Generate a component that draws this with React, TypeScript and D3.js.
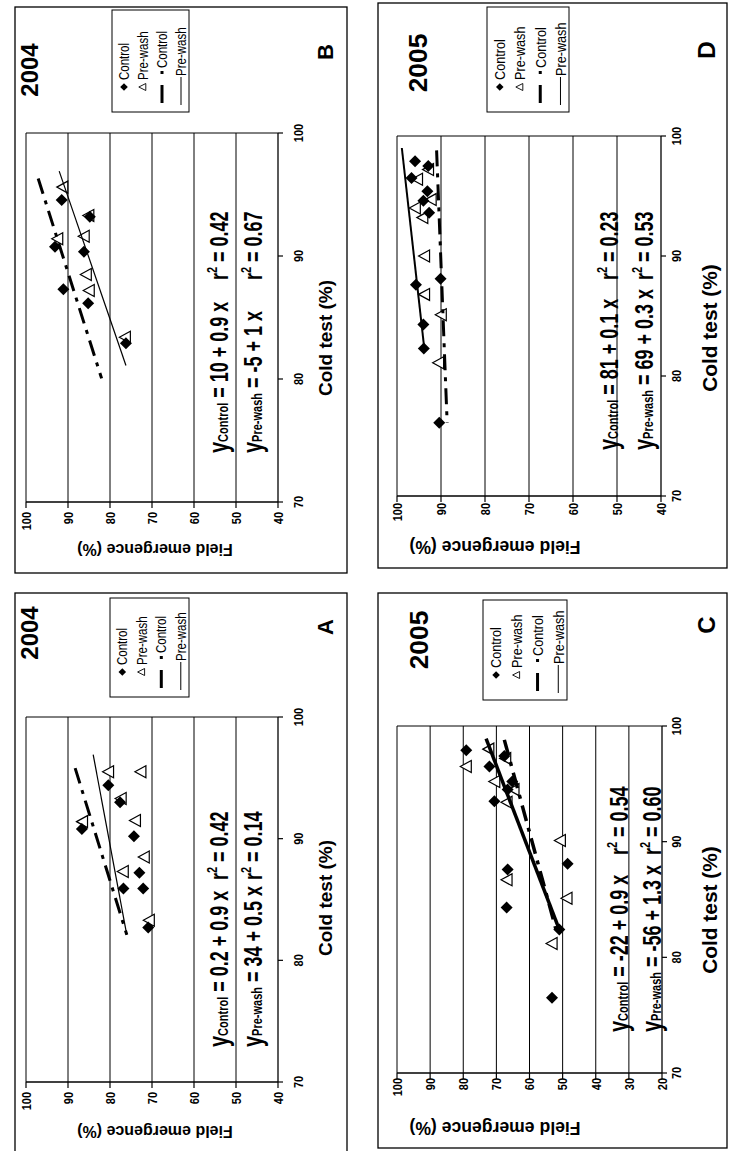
import React from 'react';
import * as d3 from 'd3';

const W = 731;
const H = 1151;
const FONT = "'Liberation Sans', Arial, Helvetica, sans-serif";

// ---------------- data ----------------
const coldTestTicks = [70, 80, 90, 100];
const fieldTicksStd = [40, 50, 60, 70, 80, 90, 100];
const fieldTicksC = [20, 30, 40, 50, 60, 70, 80, 90, 100];
const legendLabels = ['Control', 'Pre-wash', 'Control', 'Pre-wash'];

// Panel A (2004)
const aControlCT = [94.4, 93.0, 90.8, 90.2, 87.2, 85.9, 85.9, 82.7];
const aControlFE = [80.4, 77.6, 86.7, 74.3, 73.0, 76.8, 72.1, 70.9];
const aPrewashCT = [95.5, 95.5, 93.3, 91.4, 91.5, 88.5, 87.3, 83.3];
const aPrewashFE = [80.2, 72.5, 77.2, 86.4, 73.8, 71.7, 76.7, 70.5];
const aControlTrendCT = [95.8, 82.1];
const aControlTrendFE = [88.3, 76.0];
const aPrewashTrendCT = [96.9, 82.1];
const aPrewashTrendFE = [84.0, 76.0];
const aEquation = ['0.2 + 0.9 x', '34 + 0.5 x'];
const aR2 = ['0.42', '0.14'];

// Panel B (2004)
const bControlCT = [94.55, 93.2, 90.75, 90.35, 87.3, 86.15, 82.9];
const bControlFE = [91.5, 84.8, 93.1, 86.2, 91.1, 85.2, 76.2];
const bPrewashCT = [95.6, 93.3, 91.4, 91.6, 88.5, 87.2, 83.4];
const bPrewashFE = [91.1, 84.9, 92.3, 86.0, 85.5, 84.8, 76.2];
const bControlTrendCT = [96.3, 80.05];
const bControlTrendFE = [97.1, 82.0];
const bPrewashTrendCT = [96.9, 81.1];
const bPrewashTrendFE = [92.1, 76.2];
const bEquation = ['10 + 0.9 x', '-5 + 1 x'];
const bR2 = ['0.42', '0.67'];

// Panel C (2005)
const cControlCT = [97.9, 97.4, 96.5, 95.2, 94.5, 93.5, 87.6, 88.1, 84.3, 82.4, 76.5];
const cControlFE = [79.1, 67.6, 72.1, 65.2, 66.6, 70.6, 66.6, 48.5, 66.9, 51.0, 53.2];
const cPrewashCT = [98.0, 96.5, 95.2, 94.5, 93.4, 97.2, 90.1, 86.7, 85.1, 81.2];
const cPrewashFE = [72.1, 78.9, 70.3, 64.5, 66.6, 67.0, 50.5, 66.6, 48.5, 53.0];
const cControlTrendCT = [98.8, 82.4];
const cControlTrendFE = [67.6, 52.0];
const cPrewashTrendCT = [98.9, 82.4];
const cPrewashTrendFE = [73.1, 51.0];
const cEquation = ['-22 + 0.9 x', '-56 + 1.3 x'];
const cR2 = ['0.54', '0.60'];

// Panel D (2005)
const dControlCT = [97.9, 97.5, 96.5, 95.4, 94.6, 93.6, 88.1, 87.6, 84.3, 82.3, 76.1];
const dControlFE = [95.9, 92.9, 96.7, 93.1, 94.0, 92.7, 90.1, 95.7, 94.0, 93.9, 90.4];
const dPrewashCT = [97.2, 96.4, 94.7, 94.0, 93.2, 90.0, 86.8, 85.1, 81.1];
const dPrewashFE = [92.7, 95.2, 92.1, 95.7, 94.0, 93.6, 93.6, 89.8, 90.4];
const dControlTrendCT = [98.8, 76.1];
const dControlTrendFE = [91.0, 88.6];
const dPrewashTrendCT = [99.0, 82.3];
const dPrewashTrendFE = [98.9, 93.8];
const dEquation = ['81 + 0.1 x', '69 + 0.3 x'];
const dR2 = ['0.23', '0.53'];

// ---------------- layout (original, unrotated figure coordinates) ----------------
type Layout = {
  frame: number[];
  plot: { x0: number; x1: number; yTop: number; yBot: number };
  year: number[];
  letter: number[];
  legend: number[];
  eq: { x: number; y1: number; y2: number; rx: number };
  ctLabelY: number;
  ctTitle: number[];
  feLabelX: number;
  feTitle: number[];
  fs: number;
  lw: { control: number; prewash: number };
};

const layoutA: Layout = {
  frame: [-2, 15, 560, 332],
  plot: { x0: 69, x1: 434, yTop: 26, yBot: 278 },
  year: [518, 38], letter: [524, 333],
  legend: [454, 110, 99, 79],
  eq: { x: 104, y1: 228, y2: 262, rx: 271 },
  ctLabelY: 303, ctTitle: [253, 332],
  feLabelX: 59, feTitle: [19, 155],
  fs: 1, lw: { control: 3, prewash: 1.2 },
};
const layoutB: Layout = {
  frame: [578, 15, 566, 332],
  plot: { x0: 649, x1: 1018, yTop: 26, yBot: 278 },
  year: [1081, 38], letter: [1099, 333],
  legend: [1039, 112, 102, 77],
  eq: { x: 698, y1: 228, y2: 262, rx: 871 },
  ctLabelY: 303, ctTitle: [813, 332],
  feLabelX: 639, feTitle: [601, 155],
  fs: 1, lw: { control: 3, prewash: 1.2 },
};
const layoutC: Layout = {
  frame: [3, 378, 555, 349],
  plot: { x0: 78, x1: 425, yTop: 397, yBot: 662 },
  year: [511, 428], letter: [526, 715],
  legend: [451, 483, 100, 84],
  eq: { x: 119, y1: 628, y2: 661, rx: 296 },
  ctLabelY: 681, ctTitle: [241, 717],
  feLabelX: 73, feTitle: [23, 495],
  fs: 1.1, lw: { control: 3.5, prewash: 3.5 },
};
const layoutD: Layout = {
  frame: [583, 378, 565, 349],
  plot: { x0: 655, x1: 1015, yTop: 397, yBot: 661 },
  year: [1088, 427], letter: [1101, 715],
  legend: [1039, 487, 105, 82],
  eq: { x: 701, y1: 618, y2: 653, rx: 871 },
  ctLabelY: 681, ctTitle: [823, 717],
  feLabelX: 648, feTitle: [604, 495],
  fs: 1.1, lw: { control: 3, prewash: 2 },
};

const panels = [
  { key: 'A', year: '2004', feMin: 40, feTicks: fieldTicksStd, cCT: aControlCT, cFE: aControlFE, pCT: aPrewashCT, pFE: aPrewashFE,
    ctCT: aControlTrendCT, ctFE: aControlTrendFE, ptCT: aPrewashTrendCT, ptFE: aPrewashTrendFE, eq: aEquation, r2: aR2, L: layoutA },
  { key: 'B', year: '2004', feMin: 40, feTicks: fieldTicksStd, cCT: bControlCT, cFE: bControlFE, pCT: bPrewashCT, pFE: bPrewashFE,
    ctCT: bControlTrendCT, ctFE: bControlTrendFE, ptCT: bPrewashTrendCT, ptFE: bPrewashTrendFE, eq: bEquation, r2: bR2, L: layoutB },
  { key: 'C', year: '2005', feMin: 20, feTicks: fieldTicksC, cCT: cControlCT, cFE: cControlFE, pCT: cPrewashCT, pFE: cPrewashFE,
    ctCT: cControlTrendCT, ctFE: cControlTrendFE, ptCT: cPrewashTrendCT, ptFE: cPrewashTrendFE, eq: cEquation, r2: cR2, L: layoutC },
  { key: 'D', year: '2005', feMin: 40, feTicks: fieldTicksStd, cCT: dControlCT, cFE: dControlFE, pCT: dPrewashCT, pFE: dPrewashFE,
    ctCT: dControlTrendCT, ctFE: dControlTrendFE, ptCT: dPrewashTrendCT, ptFE: dPrewashTrendFE, eq: dEquation, r2: dR2, L: layoutD },
];

const DASH = '16 7 4 7';

function diamond(s: number) {
  return `M0,${-s}L${s},0L0,${s}L${-s},0Z`;
}
function triangle(w: number, h: number) {
  return `M0,${-h * 0.6}L${w / 2},${h * 0.4}L${-w / 2},${h * 0.4}Z`;
}

// text stretched vertically (in the unrotated frame) like the scanned original
function SText({ x, y, sy = 1.2, children, ...rest }: any) {
  return (
    <text transform={`translate(${x},${y}) scale(1,${sy})`} {...rest}>
      {children}
    </text>
  );
}

function Legend({ L }: { L: Layout }) {
  const [lx, ly, lw, lh] = L.legend;
  const rows = [12, 31, 50, 69].map((r) => ly + r * (lh / 77));
  const fs = 11.5 * L.fs;
  return (
    <g>
      <rect x={lx} y={ly} width={lw} height={lh} fill="#fff" stroke="#000" strokeWidth={1} />
      <path d={diamond(3.8)} transform={`translate(${lx + 25},${rows[0]})`} fill="#000" />
      <path d={triangle(7, 7)} transform={`translate(${lx + 25},${rows[1]})`} fill="#fff" stroke="#000" strokeWidth={0.9} />
      <line x1={lx + 9} x2={lx + 27} y1={rows[2]} y2={rows[2]} stroke="#000" strokeWidth={3} />
      <rect x={lx + 38} y={rows[2] - 1.5} width={3} height={3} fill="#000" />
      <line x1={lx + 7} x2={lx + 35} y1={rows[3]} y2={rows[3]} stroke="#000" strokeWidth={1} />
      {legendLabels.map((t, i) => (
        <SText key={i} x={lx + (i < 2 ? 32 : i === 2 ? 44 : 36)} y={rows[i]} sy={1.2} dy="0.35em" fontSize={fs}>
          {t}
        </SText>
      ))}
    </g>
  );
}

function Equation({ x, y, rx, label, rhs, r2 }: any) {
  const big = 18;
  return (
    <g>
      <SText x={x} y={y} sy={1.4} fontWeight="bold" fontSize={big} xmlSpace="preserve">
        <tspan fontSize={20}>y</tspan>
        <tspan fontSize={11}>{label}</tspan>
        <tspan>{' = ' + rhs}</tspan>
      </SText>
      <SText x={rx} y={y} sy={1.4} fontWeight="bold" fontSize={big} xmlSpace="preserve">
        <tspan>r</tspan>
        <tspan fontSize={11} dy={-8}>2</tspan>
        <tspan dy={8}>{' = ' + r2}</tspan>
      </SText>
    </g>
  );
}

function Panel({ p }: { p: any }) {
  const L: Layout = p.L;
  const x = d3.scaleLinear().domain([70, 100]).range([L.plot.x0, L.plot.x1]);
  const y = d3.scaleLinear().domain([p.feMin, 100]).range([L.plot.yBot, L.plot.yTop]);
  const line = d3
    .line<[number, number]>()
    .x((d) => x(d[0]))
    .y((d) => y(d[1]));
  const controlTrend = line(d3.zip(p.ctCT, p.ctFE) as [number, number][]) || '';
  const prewashTrend = line(d3.zip(p.ptCT, p.ptFE) as [number, number][]) || '';
  const controlPts = d3.zip(p.cCT, p.cFE) as [number, number][];
  const prewashPts = d3.zip(p.pCT, p.pFE) as [number, number][];
  const [fx, fy, fw, fh] = L.frame;

  return (
    <g>
      <rect x={fx} y={fy} width={fw} height={fh} fill="#fff" stroke="#000" strokeWidth={1.3} />
      {/* gridlines */}
      {p.feTicks
        .filter((t: number) => t > p.feMin)
        .map((t: number) => (
          <line key={'g' + t} x1={x(70)} x2={x(100)} y1={y(t)} y2={y(t)} stroke="#000" strokeWidth={1} />
        ))}
      <line x1={x(100)} x2={x(100)} y1={y(100)} y2={y(p.feMin)} stroke="#000" strokeWidth={1} />
      {/* axes */}
      <line x1={x(70)} x2={x(70)} y1={y(100)} y2={y(p.feMin)} stroke="#000" strokeWidth={1.3} />
      <line x1={x(70)} x2={x(100)} y1={y(p.feMin)} y2={y(p.feMin)} stroke="#000" strokeWidth={1.3} />
      {p.feTicks.map((t: number) => (
        <g key={'fe' + t}>
          <line x1={x(70) - 6} x2={x(70)} y1={y(t)} y2={y(t)} stroke="#000" strokeWidth={1.2} />
          <SText x={L.feLabelX} y={y(t)} sy={1.2} dy="0.36em" textAnchor="end" fontSize={11} fontWeight="bold">
            {t}
          </SText>
        </g>
      ))}
      {coldTestTicks.map((t) => (
        <g key={'ct' + t}>
          <line x1={x(t)} x2={x(t)} y1={y(p.feMin)} y2={y(p.feMin) + 5} stroke="#000" strokeWidth={1.2} />
          <SText x={x(t)} y={L.ctLabelY} sy={1.2} textAnchor="middle" fontSize={11} fontWeight="bold">
            {t}
          </SText>
        </g>
      ))}
      {/* axis titles */}
      <text x={L.ctTitle[0]} y={L.ctTitle[1]} textAnchor="middle" fontSize={19 * L.fs} fontWeight="bold">
        Cold test (%)
      </text>
      <text
        transform={`translate(${L.feTitle[0]},${L.feTitle[1]}) rotate(-90)`}
        textAnchor="middle"
        dy="0.35em"
        fontSize={16 * L.fs}
        fontWeight="bold"
      >
        Field emergence (%)
      </text>
      {/* markers */}
      {prewashPts.map((d, i) => (
        <path key={'p' + i} d={triangle(12, 11)} transform={`translate(${x(d[0])},${y(d[1])})`} fill="#fff" stroke="#000" strokeWidth={1.2} />
      ))}
      {controlPts.map((d, i) => (
        <path key={'c' + i} d={diamond(6)} transform={`translate(${x(d[0])},${y(d[1])})`} fill="#000" />
      ))}
      {/* trend lines */}
      <path d={prewashTrend} fill="none" stroke="#000" strokeWidth={L.lw.prewash} />
      <path d={controlTrend} fill="none" stroke="#000" strokeWidth={L.lw.control} strokeDasharray={DASH} />
      {/* equations */}
      <Equation x={L.eq.x} y={L.eq.y1} rx={L.eq.rx} label="Control" rhs={p.eq[0]} r2={p.r2[0]} />
      <Equation x={L.eq.x} y={L.eq.y2} rx={L.eq.rx} label="Pre-wash" rhs={p.eq[1]} r2={p.r2[1]} />
      {/* year, letter */}
      <text x={L.year[0]} y={L.year[1]} textAnchor="middle" fontSize={24 * L.fs} fontWeight="bold">
        {p.year}
      </text>
      <text x={L.letter[0]} y={L.letter[1]} textAnchor="middle" fontSize={22 * L.fs} fontWeight="bold">
        {p.key}
      </text>
      <Legend L={L} />
    </g>
  );
}

export default function App() {
  return (
    <svg
      width={W}
      height={H}
      viewBox={`0 0 ${W} ${H}`}
      style={{ position: 'absolute', left: 0, top: 0, display: 'block', background: '#fff' }}
      fontFamily={FONT}
    >
      <rect width={W} height={H} fill="#fff" />
      <g transform={`translate(0,${H}) rotate(-90)`}>
        {panels.map((p) => (
          <Panel key={p.key} p={p} />
        ))}
      </g>
    </svg>
  );
}
